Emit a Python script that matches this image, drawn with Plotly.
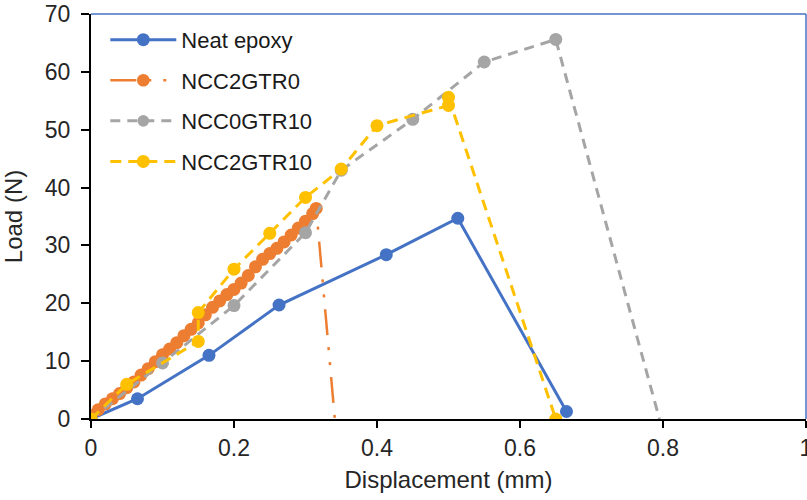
import plotly.graph_objects as go

# ---- data ----
neat_x = [0, 0.065, 0.165, 0.263, 0.413, 0.513, 0.665]
neat_y = [0, 3.5, 11.0, 19.7, 28.4, 34.7, 1.3]

ncc2gtr0_x = [0, 0.01, 0.02, 0.03, 0.04, 0.05, 0.06, 0.07, 0.08, 0.09, 0.10, 0.11,
              0.12, 0.13, 0.14, 0.15, 0.16, 0.17, 0.18, 0.19, 0.20, 0.21, 0.22,
              0.23, 0.24, 0.25, 0.26, 0.27, 0.28, 0.29, 0.30, 0.31, 0.315, 0.341]
ncc2gtr0_y = [0.6, 1.6, 2.6, 3.5, 4.4, 5.4, 6.4, 7.6, 8.7, 9.9, 11.1, 12.1,
              13.2, 14.4, 15.5, 16.6, 18.0, 19.3, 20.4, 21.5, 22.4, 23.5, 24.8,
              26.3, 27.6, 28.6, 29.5, 30.6, 31.8, 33.0, 34.2, 35.5, 36.4, 0]

ncc0gtr10_x = [0, 0.1, 0.2, 0.3, 0.35, 0.45, 0.55, 0.65, 0.795]
ncc0gtr10_y = [0, 9.7, 19.6, 32.2, 43.0, 51.8, 61.7, 65.6, 0]

ncc2gtr10_x = [0, 0.05, 0.15, 0.15, 0.2, 0.25, 0.3, 0.35, 0.4, 0.5, 0.5, 0.65]
ncc2gtr10_y = [0, 6.0, 13.4, 18.4, 25.9, 32.1, 38.3, 43.2, 50.7, 54.2, 55.6, 0]

x_ticks = [0, 0.2, 0.4, 0.6, 0.8, 1]
y_ticks = [0, 10, 20, 30, 40, 50, 60, 70]

BLUE = "#4472C4"
ORANGE = "#ED7D31"
GRAY = "#A5A5A5"
YELLOW = "#FFC000"
MS = 13


def mk(color, n, hide_last=False):
    sizes = [MS] * n
    if hide_last:
        sizes[-1] = 0
    return dict(color=color, size=sizes, opacity=1, line=dict(width=0))


fig = go.Figure()
fig.add_trace(go.Scatter(
    x=neat_x, y=neat_y, name="Neat epoxy", mode="lines+markers",
    line=dict(color=BLUE, width=3), marker=mk(BLUE, len(neat_x)),
    legendgroup="a"))
fig.add_trace(go.Scatter(
    x=ncc2gtr0_x, y=ncc2gtr0_y, name="NCC2GTR0", mode="lines+markers",
    line=dict(color=ORANGE, width=2.5, dash="26px,12px,3px,12px,3px,12px"),
    marker=mk(ORANGE, len(ncc2gtr0_x), True),
    legendgroup="b"))
fig.add_trace(go.Scatter(
    x=ncc0gtr10_x, y=ncc0gtr10_y, name="NCC0GTR10", mode="lines+markers",
    line=dict(color=GRAY, width=3, dash="10px,7px"),
    marker=mk(GRAY, len(ncc0gtr10_x), True),
    legendgroup="c"))
fig.add_trace(go.Scatter(
    x=ncc2gtr10_x, y=ncc2gtr10_y, name="NCC2GTR10", mode="lines+markers",
    line=dict(color=YELLOW, width=3, dash="11px,7px"),
    marker=mk(YELLOW, len(ncc2gtr10_x)),
    legendgroup="d"))

FONT = "Liberation Sans, Arial, sans-serif"
fig.update_layout(
    width=807, height=500,
    margin=dict(l=91, r=1, t=14, b=81),
    paper_bgcolor="white", plot_bgcolor="white",
    font=dict(family=FONT, size=23, color="#262626"),
    showlegend=True,
    legend=dict(x=0.02, y=0.988, xanchor="left", yanchor="top",
                bgcolor="rgba(0,0,0,0)", font=dict(size=22, color="#1a1a1a"),
                tracegroupgap=9, traceorder="grouped", itemwidth=66),
    xaxis=dict(range=[0, 1], tickvals=x_ticks, ticktext=[f"{v:g}" for v in x_ticks],
               showgrid=False, zeroline=False, showline=True, linecolor="black",
               linewidth=2, ticks="outside", ticklen=7, tickwidth=2, tickcolor="black",
               automargin=False, ticklabelstandoff=0, ticklabeloverflow="allow",
               title=dict(text="Displacement (mm)", font=dict(size=24), standoff=12)),
    yaxis=dict(range=[0, 70], tickvals=y_ticks, showgrid=False, zeroline=False,
               showline=True, linecolor="black", linewidth=2, ticks="outside",
               ticklen=8, tickwidth=2, tickcolor="black", automargin=False,
               ticklabelstandoff=6, ticklabeloverflow="allow",
               title=dict(text="Load (N)", font=dict(size=24), standoff=21)),
    shapes=[
        dict(type="line", xref="paper", yref="paper", x0=0, x1=1, y0=1, y1=1,
             line=dict(color="#4472C4", width=1.5)),
        dict(type="line", xref="paper", yref="paper", x0=1, x1=1, y0=0, y1=1,
             line=dict(color="#4472C4", width=1.5)),
    ],
)
fig.write_html("out.html", config={"displayModeBar": False},
               post_script="document.body.style.margin='0px';")
